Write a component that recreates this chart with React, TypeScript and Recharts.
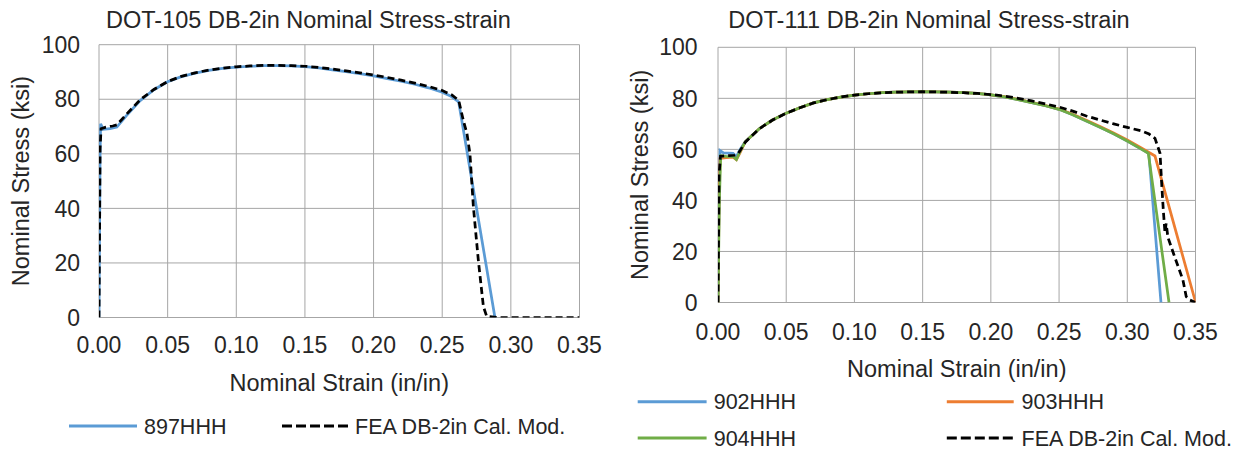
import React from 'react';
import { LineChart, Line, XAxis, YAxis, CartesianGrid } from 'recharts';

// ---------- shared axis ticks ----------
const strainTicks = [0, 0.05, 0.1, 0.15, 0.2, 0.25, 0.3, 0.35];
const stressTicks = [0, 20, 40, 60, 80, 100];

// ---------- left chart: DOT-105 ----------
const strain897 = [0, 0.0008, 0.0012, 0.003, 0.008, 0.013, 0.02, 0.03, 0.04, 0.05, 0.06, 0.07, 0.08, 0.09, 0.1, 0.11, 0.12, 0.13, 0.14, 0.15, 0.16, 0.17, 0.18, 0.19, 0.2, 0.21, 0.22, 0.23, 0.24, 0.25, 0.256, 0.262, 0.2884];
const stress897 = [0, 60, 71, 69, 69.2, 69.8, 74, 79.5, 83.5, 86.4, 88.3, 89.6, 90.6, 91.3, 91.8, 92.1, 92.3, 92.3, 92.2, 92.0, 91.5, 90.8, 90.1, 89.4, 88.6, 87.6, 86.6, 85.5, 84.2, 82.6, 81.2, 79.0, 0];

const strainFea105 = [0, 0.0008, 0.0015, 0.005, 0.01, 0.013, 0.02, 0.03, 0.04, 0.05, 0.06, 0.07, 0.08, 0.09, 0.1, 0.11, 0.12, 0.13, 0.14, 0.15, 0.16, 0.17, 0.18, 0.19, 0.2, 0.21, 0.22, 0.23, 0.24, 0.25, 0.257, 0.262, 0.2655, 0.268, 0.2702, 0.2727, 0.2763, 0.28, 0.2824, 0.29, 0.35];
const stressFea105 = [0, 62, 69.2, 69.8, 70.2, 70.6, 74.5, 79.8, 83.6, 86.5, 88.4, 89.7, 90.7, 91.4, 91.9, 92.2, 92.4, 92.4, 92.3, 92.1, 91.7, 91.1, 90.4, 89.7, 88.9, 88.0, 87.0, 85.9, 84.7, 83.2, 81.6, 79.6, 72, 67.5, 60, 40.6, 21, 4, 0.4, 0, 0];

// ---------- right chart: DOT-111 ----------
const strain902 = [0, 0.0008, 0.0015, 0.004, 0.011, 0.0135, 0.016, 0.02, 0.03, 0.04, 0.05, 0.06, 0.07, 0.08, 0.09, 0.1, 0.11, 0.12, 0.13, 0.14, 0.15, 0.16, 0.17, 0.18, 0.19, 0.2, 0.21, 0.22, 0.23, 0.24, 0.25, 0.26, 0.27, 0.28, 0.29, 0.3, 0.31, 0.3158, 0.3247];
const stress902 = [0, 45, 59.5, 58.6, 58.4, 57.2, 59.8, 63, 68, 71.5, 74.2, 76.3, 78.2, 79.5, 80.5, 81.3, 81.8, 82.2, 82.4, 82.5, 82.6, 82.5, 82.4, 82.2, 81.9, 81.4, 80.6, 79.5, 78.3, 77.1, 75.7, 73.6, 71.1, 68.7, 66.1, 63.3, 60.2, 58.5, 0];

const strain903 = [0, 0.0008, 0.0015, 0.006, 0.011, 0.0135, 0.016, 0.02, 0.03, 0.04, 0.05, 0.06, 0.07, 0.08, 0.09, 0.1, 0.11, 0.12, 0.13, 0.14, 0.15, 0.16, 0.17, 0.18, 0.19, 0.2, 0.21, 0.22, 0.23, 0.24, 0.25, 0.26, 0.27, 0.28, 0.29, 0.3, 0.31, 0.3203, 0.3501];
const stress903 = [0, 42, 56.5, 56.8, 57, 56, 58.5, 63, 68, 71.5, 74.2, 76.3, 78.2, 79.5, 80.5, 81.3, 81.8, 82.2, 82.4, 82.5, 82.6, 82.5, 82.4, 82.2, 81.9, 81.4, 80.7, 79.6, 78.4, 77.2, 75.8, 73.8, 71.4, 69.0, 66.4, 63.7, 60.7, 57.4, 0];

const strain904 = [0, 0.001, 0.002, 0.006, 0.011, 0.0135, 0.016, 0.02, 0.03, 0.04, 0.05, 0.06, 0.07, 0.08, 0.09, 0.1, 0.11, 0.12, 0.13, 0.14, 0.15, 0.16, 0.17, 0.18, 0.19, 0.2, 0.21, 0.22, 0.23, 0.24, 0.25, 0.26, 0.27, 0.28, 0.29, 0.3, 0.31, 0.3154, 0.3306];
const stress904 = [0, 40, 57.5, 57.3, 57.2, 56, 59, 63, 68, 71.5, 74.2, 76.3, 78.2, 79.5, 80.5, 81.3, 81.8, 82.2, 82.4, 82.5, 82.6, 82.5, 82.4, 82.2, 81.9, 81.4, 80.6, 79.5, 78.3, 77.1, 75.7, 73.6, 71.1, 68.7, 66.1, 63.3, 60.2, 58.5, 0];

const strainFea111 = [0, 0.0008, 0.0018, 0.006, 0.012, 0.015, 0.02, 0.03, 0.04, 0.05, 0.06, 0.07, 0.08, 0.09, 0.1, 0.11, 0.12, 0.13, 0.14, 0.15, 0.16, 0.17, 0.18, 0.19, 0.2, 0.21, 0.22, 0.23, 0.24, 0.25, 0.26, 0.27, 0.28, 0.29, 0.3, 0.31, 0.316, 0.3203, 0.324, 0.3252, 0.3264, 0.3276, 0.3285, 0.3298, 0.334, 0.3408, 0.3432, 0.3457, 0.35];
const stressFea111 = [0, 50, 57.3, 57.5, 57.7, 58.5, 62.8, 68, 71.5, 74.2, 76.3, 78.2, 79.5, 80.5, 81.3, 81.8, 82.2, 82.4, 82.5, 82.6, 82.5, 82.4, 82.2, 81.9, 81.5, 80.9, 80.0, 79.0, 77.8, 76.6, 75.0, 73.1, 71.5, 70.0, 68.6, 67.3, 66.0, 64.3, 58.5, 46.7, 36.2, 27.5, 31, 25.5, 19, 8.8, 2.3, 1, 0];

const zip = (xs: number[], ys: number[]) => xs.map((x, i) => ({ x, y: ys[i] }));

const FONT = '"Liberation Sans", Arial, sans-serif';
const TEXT = '#262626';
const GRID = '#A6A6A6';
const BLUE = '#5B9BD5';
const ORANGE = '#ED7D31';
const GREEN = '#70AD47';

const tickStyle = { fontSize: 23, fill: TEXT, fontFamily: FONT };

function LegendItem({ x1, x2, tx, y, color, dashed, label }: any) {
  return (
    <g>
      <line x1={x1} x2={x2} y1={y} y2={y} stroke={color} strokeWidth={3} strokeDasharray={dashed ? '10 4' : undefined} />
      <text x={tx} y={y + 7.7} fontSize={21.5} fill={TEXT} fontFamily={FONT}>{label}</text>
    </g>
  );
}

function LeftChart() {
  return (
    <LineChart width={617} height={450} margin={{ top: 44.7, right: 37.5, bottom: 102.5, left: 0 }}>
      <CartesianGrid stroke={GRID} strokeWidth={1} horizontalValues={stressTicks} verticalValues={strainTicks} />
      <XAxis dataKey="x" type="number" domain={[0, 0.35]} ticks={strainTicks} tickFormatter={(v: number) => v.toFixed(2)}
        axisLine={false} tickLine={false} tickSize={0} tickMargin={19} height={30} tick={tickStyle} allowDataOverflow
        label={{ value: 'Nominal Strain (in/in)', position: 'bottom', offset: 27, style: { fontSize: 23.5, fill: TEXT, fontFamily: FONT } }} />
      <YAxis dataKey="y" type="number" domain={[0, 100]} ticks={stressTicks} axisLine={false} tickLine={false} tickSize={0} tickMargin={19}
        width={99} tick={tickStyle} allowDataOverflow
        label={{ value: 'Nominal Stress (ksi)', angle: -90, position: 'insideLeft', offset: 20.7, style: { textAnchor: 'middle', fontSize: 23.5, fill: TEXT, fontFamily: FONT } }} />
      <Line data={zip(strain897, stress897)} dataKey="y" type="linear" stroke={BLUE} strokeWidth={2.75} dot={false} isAnimationActive={false} />
      <Line data={zip(strainFea105, stressFea105)} dataKey="y" type="linear" stroke="#000" strokeWidth={2.75} strokeDasharray="7 4" dot={false} isAnimationActive={false} />
      <text x={308.5} y={28.4} textAnchor="middle" fontSize={23.5} fill={TEXT} fontFamily={FONT}>DOT-105 DB-2in Nominal Stress-strain</text>
      <LegendItem x1={69} x2={137} tx={144} y={426} color={BLUE} label="897HHH" />
      <LegendItem x1={282} x2={351} tx={355} y={426} color="#000" dashed label="FEA DB-2in Cal. Mod." />
    </LineChart>
  );
}

function RightChart() {
  return (
    <LineChart width={618} height={450} margin={{ top: 47.3, right: 39.5, bottom: 117.5, left: 0 }}>
      <CartesianGrid stroke={GRID} strokeWidth={1} horizontalValues={stressTicks} verticalValues={strainTicks} />
      <XAxis dataKey="x" type="number" domain={[0, 0.35]} ticks={strainTicks} tickFormatter={(v: number) => v.toFixed(2)}
        axisLine={false} tickLine={false} tickSize={0} tickMargin={21} height={30} tick={tickStyle} allowDataOverflow
        label={{ value: 'Nominal Strain (in/in)', position: 'bottom', offset: 27.5, style: { fontSize: 23.5, fill: TEXT, fontFamily: FONT } }} />
      <YAxis dataKey="y" type="number" domain={[0, 100]} ticks={stressTicks} axisLine={false} tickLine={false} tickSize={0} tickMargin={20.4}
        width={101} tick={tickStyle} allowDataOverflow
        label={{ value: 'Nominal Stress (ksi)', angle: -90, position: 'insideLeft', offset: 22.7, style: { textAnchor: 'middle', fontSize: 23.5, fill: TEXT, fontFamily: FONT } }} />
      <Line data={zip(strain902, stress902)} dataKey="y" type="linear" stroke={BLUE} strokeWidth={2.75} dot={false} isAnimationActive={false} />
      <Line data={zip(strain903, stress903)} dataKey="y" type="linear" stroke={ORANGE} strokeWidth={2.75} dot={false} isAnimationActive={false} />
      <Line data={zip(strain904, stress904)} dataKey="y" type="linear" stroke={GREEN} strokeWidth={2.75} dot={false} isAnimationActive={false} />
      <Line data={zip(strainFea111, stressFea111)} dataKey="y" type="linear" stroke="#000" strokeWidth={2.75} strokeDasharray="7 4" dot={false} isAnimationActive={false} />
      <text x={312} y={28.4} textAnchor="middle" fontSize={23.5} fill={TEXT} fontFamily={FONT}>DOT-111 DB-2in Nominal Stress-strain</text>
      <LegendItem x1={20.7} x2={89.6} tx={96.7} y={401.7} color={BLUE} label="902HHH" />
      <LegendItem x1={329.8} x2={396.7} tx={404.6} y={401.7} color={ORANGE} label="903HHH" />
      <LegendItem x1={20.7} x2={89.6} tx={96.7} y={438} color={GREEN} label="904HHH" />
      <LegendItem x1={329.8} x2={396.7} tx={404.6} y={438} color="#000" dashed label="FEA DB-2in Cal. Mod." />
    </LineChart>
  );
}

export default function App() {
  return (
    <div style={{ position: 'absolute', left: 0, top: 0, width: 1235, height: 450, background: '#fff', fontFamily: FONT }}>
      <div style={{ position: 'absolute', left: 0, top: 0 }}>
        <LeftChart />
      </div>
      <div style={{ position: 'absolute', left: 617, top: 0 }}>
        <RightChart />
      </div>
    </div>
  );
}
